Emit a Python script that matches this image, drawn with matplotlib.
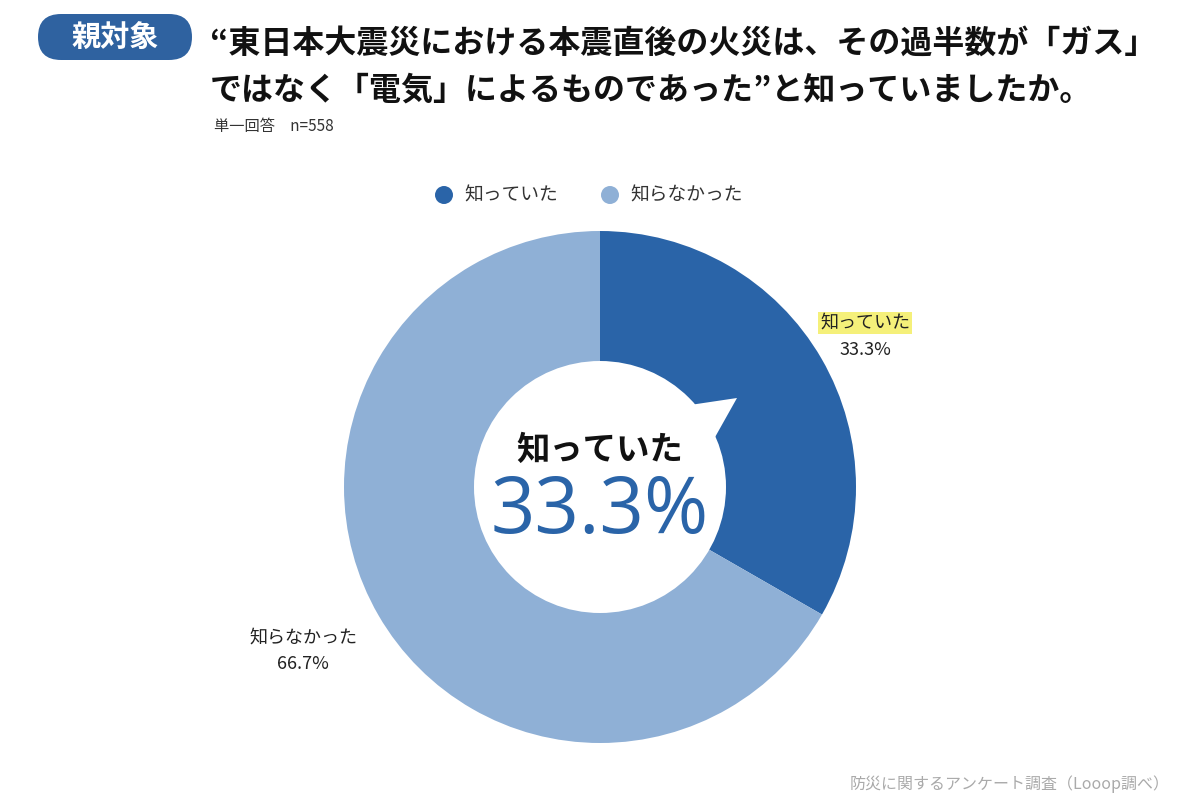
import matplotlib
matplotlib.use("Agg")
import matplotlib.pyplot as plt
from matplotlib.patches import FancyBboxPatch, Circle, Polygon

plt.rcParams['font.family'] = ['Noto Sans CJK JP', 'DejaVu Sans']

categories = ["知っていた", "知らなかった"]
values = [33.3, 66.7]
colors = ["#2a64a8", "#8fb0d6"]

fig = plt.figure(figsize=(12, 8), dpi=100)
ax = fig.add_axes([0, 0, 1, 1])
ax.set_xlim(0, 1200); ax.set_ylim(0, 800); ax.set_aspect('equal'); ax.axis('off')

# badge
ax.add_patch(FancyBboxPatch((38, 740), 154, 46, boxstyle="round,pad=0,rounding_size=23",
                            fc="#2f62a0", ec="none"))
ax.text(115, 762, "親対象", color="white", fontsize=21, fontweight='bold', ha='center', va='center')
ax.text(210, 756, "“東日本大震災における本震直後の火災は、その過半数が「ガス」",
        fontsize=23, fontweight='bold', ha='left', va='center', color="#111111")
ax.text(210, 709, "ではなく「電気」によるものであった”と知っていましたか。",
        fontsize=23, fontweight='bold', ha='left', va='center', color="#111111")
ax.text(214, 673, "単一回答　n=558", fontsize=11, ha='left', va='center', color="#333333")

# legend
for x, lab, c in [(444, categories[0], colors[0]), (610, categories[1], colors[1])]:
    ax.add_patch(Circle((x, 605), 9, fc=c, ec='none'))
    ax.text(x + 20, 605, lab, fontsize=13.5, ha='left', va='center', color="#333333")

cx, cy, r = 600, 313, 256
ax.pie(values, colors=colors, startangle=90, counterclock=False, center=(cx, cy), radius=r,
       wedgeprops=dict(linewidth=0))
ax.set_xlim(0, 1200); ax.set_ylim(0, 800); ax.set_aspect('equal'); ax.axis('off')

# center bubble
ax.add_patch(Circle((cx, cy), 126, fc='white', ec='none'))
ax.add_patch(Polygon([(690, 395), (737, 402), (705, 345)], closed=True, fc='white', ec='none'))
ax.text(cx, 350, categories[0], fontsize=24, fontweight='bold', ha='center', va='center', color="#111111")
ax.text(cx, 287, f"{values[0]}%", fontsize=56, family=['Open Sans', 'DejaVu Sans'],
        ha='center', va='center', color="#2a64a8")

# labels
ax.text(865, 477, categories[0], fontsize=13, ha='center', va='center', color="#222222",
        bbox=dict(boxstyle='square,pad=0.1', fc='#f5f07a', ec='none'))
ax.text(865, 450, f"{values[0]}%", fontsize=13, ha='center', va='center', color="#222222")
ax.text(303, 162, categories[1], fontsize=13, ha='center', va='center', color="#222222")
ax.text(303, 136, f"{values[1]}%", fontsize=13, ha='center', va='center', color="#222222")

ax.text(1170, 16, "防災に関するアンケート調査（Looop調べ）", fontsize=11.5, ha='right', va='center', color="#aaaaaa")

fig.savefig("out.png", dpi=100, facecolor='white')
